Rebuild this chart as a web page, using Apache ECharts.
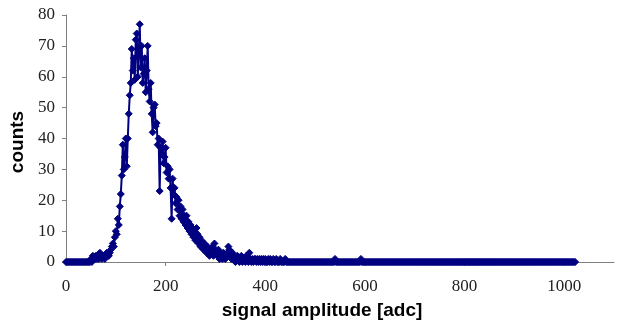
<!DOCTYPE html>
<html><head><meta charset="utf-8">
<script src="https://cdn.jsdelivr.net/npm/echarts@6/dist/echarts.min.js"></script>
<style>html,body{margin:0;padding:0;background:#fff}#c{width:620px;height:324px}</style>
</head><body><div id="c"></div>
<script>
// Channel binning of the histogram
const binStart = 0;
const binWidth = 2;
// Counts per bin (channels 0..1022, step 2)
const counts = [
 0,0,0,0,0,0,0,0,0,0,0,0,0,0,0,0,0,0,0,0,0,0,0,0,0,
 1,0,2,1,1,2,1,2,1,3,2,1,2,2,1,2,3,2,2,3,4,5,6,5,8,
 10,9,14,12,18,22,28,38,30,34,40,31,40,48,54,58,69,62,66,59,72,74,60,68,77,
 63,70,58,61,66,55,62,70,56,52,58,48,42,50,51,44,45,38,40,23,37,35,39,32,34,
 37,29,31,27,30,24,14,27,22,24,19,21,17,20,15,18,14,17,13,15,12,15,11,13,10,
 12,9,11,8,10,7,11,9,6,8,5,7,6,4,6,5,3,5,4,2,4,3,5,2,6,
 4,3,2,4,1,3,2,1,3,2,1,2,3,5,4,2,1,3,1,2,0,1,2,1,0,
 1,2,0,1,1,0,2,1,0,3,1,0,1,0,1,1,0,1,0,1,0,1,0,1,0,
 1,0,0,1,0,1,0,0,1,0,0,1,0,0,0,1,0,0,0,0,1,0,0,0,0,
 0,0,0,0,0,0,0,0,0,0,0,0,0,0,0,0,0,0,0,0,0,0,0,0,0,
 0,0,0,0,0,0,0,0,0,0,0,0,0,0,0,0,0,0,0,0,1,0,0,0,0,
 0,0,0,0,0,0,0,0,0,0,0,0,0,0,0,0,0,0,0,0,0,1,0,0,0,
 0,0,0,0,0,0,0,0,0,0,0,0,0,0,0,0,0,0,0,0,0,0,0,0,0,
 0,0,0,0,0,0,0,0,0,0,0,0,0,0,0,0,0,0,0,0,0,0,0,0,0,
 0,0,0,0,0,0,0,0,0,0,0,0,0,0,0,0,0,0,0,0,0,0,0,0,0,
 0,0,0,0,0,0,0,0,0,0,0,0,0,0,0,0,0,0,0,0,0,0,0,0,0,
 0,0,0,0,0,0,0,0,0,0,0,0,0,0,0,0,0,0,0,0,0,0,0,0,0,
 0,0,0,0,0,0,0,0,0,0,0,0,0,0,0,0,0,0,0,0,0,0,0,0,0,
 0,0,0,0,0,0,0,0,0,0,0,0,0,0,0,0,0,0,0,0,0,0,0,0,0,
 0,0,0,0,0,0,0,0,0,0,0,0,0,0,0,0,0,0,0,0,0,0,0,0,0,
 0,0,0,0,0,0,0,0,0,0,0,0
];
const xTicks = [0, 200, 400, 600, 800, 1000];
const yTicks = [0, 10, 20, 30, 40, 50, 60, 70, 80];
const xTitle = 'signal amplitude [adc]';
const yTitle = 'counts';

const data = counts.map((c, i) => [binStart + i * binWidth, c]);
const navy = '#000080';
const axisGrey = '#808080';
const chart = echarts.init(document.getElementById('c'), null, {renderer: 'canvas'});
chart.setOption({
  animation: false,
  grid: {left: 66, right: 6, top: 15, bottom: 62, containLabel: false},
  xAxis: {
    type: 'value', min: 0, max: 1100, interval: 200,
    axisLine: {lineStyle: {color: axisGrey, width: 1}},
    axisTick: {show: true, inside: false, length: 4, lineStyle: {color: axisGrey}},
    splitLine: {show: false},
    axisLabel: {showMaxLabel: false, margin: 16, color: '#222', fontFamily: 'Liberation Serif', fontSize: 17,
      formatter: v => xTicks.includes(v) ? String(v) : ''}
  },
  yAxis: {
    type: 'value', min: 0, max: 80, interval: 10,
    axisLine: {show: true, lineStyle: {color: axisGrey, width: 1}},
    axisTick: {show: true, inside: false, length: 4, lineStyle: {color: axisGrey}},
    splitLine: {show: false},
    axisLabel: {margin: 11, color: '#222', fontFamily: 'Liberation Serif', fontSize: 17,
      formatter: v => yTicks.includes(v) ? String(v) : ''}
  },
  graphic: [
    {type: 'text', x: 322, y: 311, style: {text: xTitle, align: 'center', verticalAlign: 'middle',
      font: 'bold 19px "Liberation Sans", Arial, sans-serif', fill: '#000'}},
    {type: 'text', x: 18, y: 142, rotation: Math.PI / 2, style: {text: yTitle, align: 'center', verticalAlign: 'middle',
      font: 'bold 19px "Liberation Sans", Arial, sans-serif', fill: '#000'}}
  ],
  series: [{
    type: 'line', data: data, showSymbol: true, symbol: 'diamond', symbolSize: 7,
    showAllSymbol: true,
    lineStyle: {color: navy, width: 2},
    itemStyle: {color: navy, borderColor: navy},
    clip: false
  }]
});
</script>
</body></html>
